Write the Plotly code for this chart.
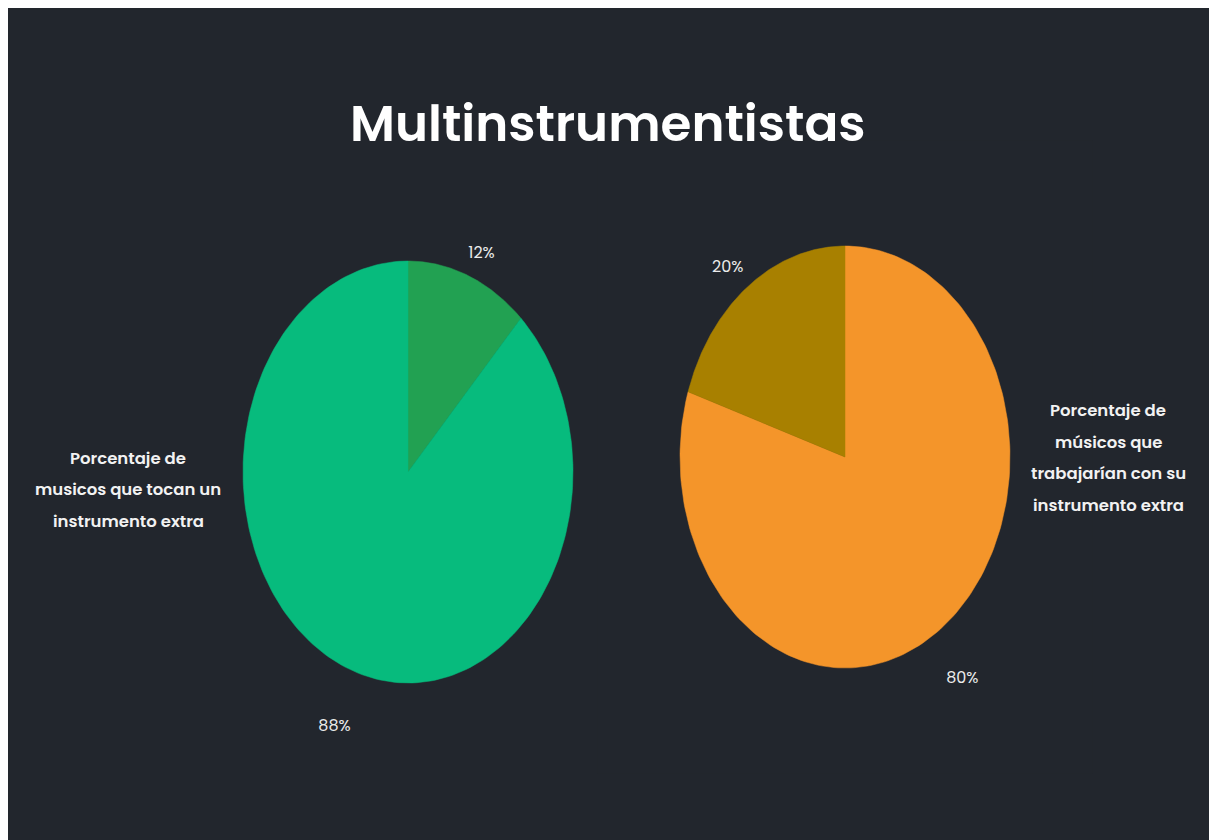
import numpy as np
import plotly.graph_objects as go

title_text = "Multinstrumentistas"
pie_titles = [
    "Porcentaje de<br>musicos que tocan un<br>instrumento extra",
    "Porcentaje de<br>músicos que<br>trabajarían con su<br>instrumento extra",
]
# values listed clockwise from 12 o'clock
pie1_labels = ["Sí", "No"]
pie1_values = [12, 88]
pie1_colors = ["#22a152", "#07bb7d"]
pie2_labels = ["Sí", "No"]
pie2_values = [80, 20]
pie2_colors = ["#f4952a", "#a88000"]

W, H = 1209, 840
BG = "#22262d"
RX, RY = 165, 211          # pixel radii of the (stretched) pies
R = 1.5                    # axis half range
centers = [(400, 464), (837, 449)]   # pixel centres within the figure
FONT = "Poppins, Inter, sans-serif"

fig = go.Figure()

def axis_domains(cx, cy):
    hx, hy = R * RX, R * RY
    xd = [(cx - hx) / W, (cx + hx) / W]
    yd = [1 - (cy + hy) / H, 1 - (cy - hy) / H]
    return xd, yd

def add_pie(idx, labels, values, colors):
    xa = "x" if idx == 0 else "x2"
    ya = "y" if idx == 0 else "y2"
    total = float(sum(values))
    start = 0.0
    for lab, v, c in zip(labels, values, colors):
        f0, f1 = start / total, (start + v) / total
        th = np.linspace(f0, f1, 200) * 2 * np.pi
        xs = np.concatenate([[0], np.sin(th), [0]])
        ys = np.concatenate([[0], np.cos(th), [0]])
        fig.add_trace(go.Scatter(x=xs, y=ys, fill="toself", fillcolor=c,
                                 mode="lines", line=dict(color=c, width=0.5),
                                 xaxis=xa, yaxis=ya, hoverinfo="text",
                                 text=f"{lab}: {v}%", showlegend=False))
        mid = (f0 + f1) / 2 * 2 * np.pi
        kx = 1.21
        ky = 1.11 if np.cos(mid) > 0 else 1.3
        fig.add_trace(go.Scatter(x=[kx * np.sin(mid)], y=[ky * np.cos(mid)],
                                 mode="text", text=[f"{round(v / total * 100)}%"],
                                 textfont=dict(family=FONT, size=16, color="#ebebeb"),
                                 xaxis=xa, yaxis=ya, hoverinfo="skip",
                                 showlegend=False))
        start += v

add_pie(0, pie1_labels, pie1_values, pie1_colors)
add_pie(1, pie2_labels, pie2_values, pie2_colors)

for i, (cx, cy) in enumerate(centers):
    xd, yd = axis_domains(cx, cy)
    sfx = "" if i == 0 else "2"
    ax = dict(range=[-R, R], domain=xd, visible=False, fixedrange=True)
    ay = dict(range=[-R, R], domain=yd, visible=False, fixedrange=True)
    if i == 1:
        ax["anchor"] = "y2"
        ay["anchor"] = "x2"
    fig.update_layout({f"xaxis{sfx}": ax, f"yaxis{sfx}": ay})

# pie titles, one annotation per line for the wide line spacing
title_pos = [(120, 482, 31.5), (1100, 450, 31.5)]
annots = []
for text, (px, py, lh) in zip(pie_titles, title_pos):
    lines = text.split("<br>")
    n = len(lines)
    for k, ln in enumerate(lines):
        yy = py + (k - (n - 1) / 2) * lh
        annots.append(dict(x=px / W, y=1 - yy / H, xref="paper", yref="paper",
                           text=ln, showarrow=False, xanchor="center", yanchor="middle",
                           font=dict(family=FONT, size=16.5, color="#f2f2f2", weight=600)))
annots.append(dict(x=600 / W, y=1 - 116 / H, xref="paper", yref="paper",
                   text=title_text, showarrow=False, xanchor="center", yanchor="middle",
                   font=dict(family=FONT, size=50, color="#ffffff", weight=600)))

fig.update_layout(width=W, height=H, paper_bgcolor=BG, plot_bgcolor=BG,
                  margin=dict(l=0, r=0, t=0, b=0), annotations=annots,
                  showlegend=False)

fig.write_html("out.html", default_width=f"{W}px", default_height=f"{H}px",
               post_script="document.documentElement.style.overflow='hidden';"
                           "document.body.style.cssText='margin:8px 0 0 8px;overflow:hidden;';")
